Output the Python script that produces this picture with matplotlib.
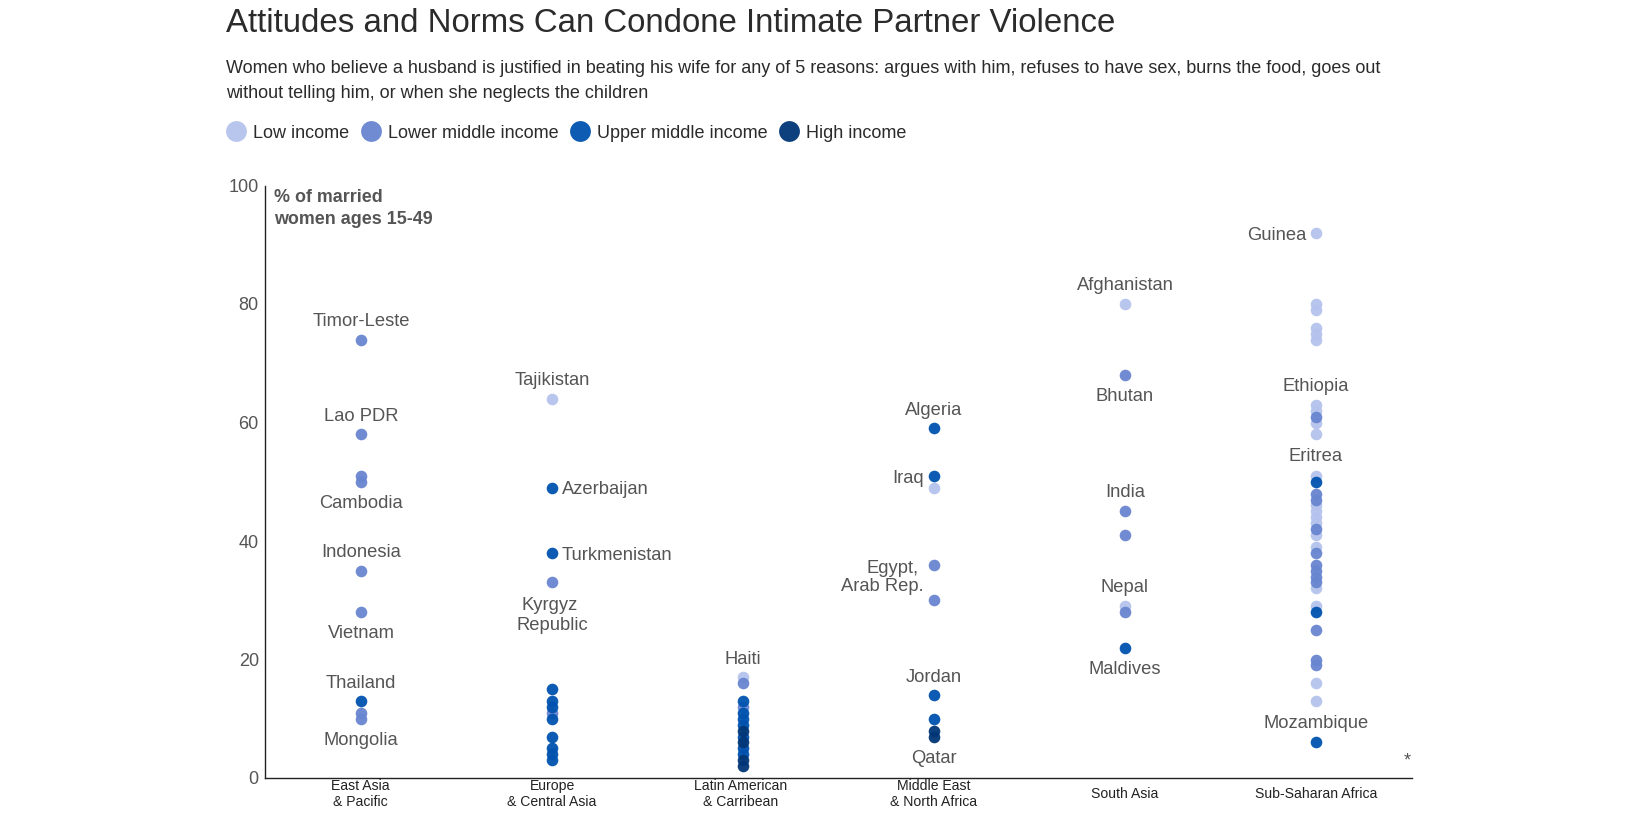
import matplotlib
matplotlib.use('Agg')
import matplotlib.pyplot as plt
from matplotlib.lines import Line2D
from matplotlib.transforms import ScaledTranslation

plt.rcParams['font.family'] = ['Liberation Sans', 'DejaVu Sans']

W, H = 1646, 823

regions = ['East Asia\n& Pacific', 'Europe\n& Central Asia', 'Latin American\n& Carribean',
           'Middle East\n& North Africa', 'South Asia', 'Sub-Saharan Africa']
income_names = ['Low income', 'Lower middle income', 'Upper middle income', 'High income']
income_colors = ['#b4c2ed', '#6885d0', '#0052ae', '#003676']

# values per region and income group
low = [[], [64], [17], [49], [80, 29],
       [92, 80, 79, 76, 75, 74, 63, 62, 60, 58, 51, 46, 45, 44, 43, 41, 39, 32, 29, 16, 13]]
lower_mid = [[74, 58, 51, 50, 35, 28, 11, 10], [33, 11], [16, 12], [36, 30], [68, 45, 41, 28],
             [61, 48, 47, 42, 38, 36, 35, 34, 33, 25, 20, 19]]
upper_mid = [[13], [49, 38, 15, 13, 12, 10, 7, 5, 4, 3], [13, 11, 10, 9, 7, 5, 4], [59, 51, 14, 10], [22],
             [50, 28, 6]]
high = [[], [], [8, 6, 3, 2], [8, 7], [], []]
series = [low, lower_mid, upper_mid, high]

# region index, value, text, ha, dx px, dy px (up is positive)
labels = [
    (0, 74, 'Timor-Leste', 'center', 0, 20), (0, 58, 'Lao PDR', 'center', 0, 20),
    (0, 50, 'Cambodia', 'center', 0, -20), (0, 35, 'Indonesia', 'center', 0, 20),
    (0, 28, 'Vietnam', 'center', 0, -19), (0, 13, 'Thailand', 'center', 0, 19),
    (0, 10, 'Mongolia', 'center', 0, -20),
    (1, 64, 'Tajikistan', 'center', 0, 20), (1, 49, 'Azerbaijan', 'left', 10, 0),
    (1, 38, 'Turkmenistan', 'left', 10, -1), (1, 33, 'Kyrgyz', 'center', -2, -21),
    (1, 33, 'Republic', 'center', 0, -41),
    (2, 17, 'Haiti', 'center', 0, 20),
    (3, 59, 'Algeria', 'center', 0, 20), (3, 51, 'Iraq', 'right', -10, -1),
    (3, 36, 'Egypt,', 'right', -15, -2), (3, 30, 'Arab Rep.', 'right', -10, 16),
    (3, 14, 'Jordan', 'center', 0, 20), (3, 7, 'Qatar', 'center', 0, -20),
    (4, 80, 'Afghanistan', 'center', 0, 20), (4, 68, 'Bhutan', 'center', 0, -19),
    (4, 45, 'India', 'center', 0, 21), (4, 29, 'Nepal', 'center', 0, 21),
    (4, 22, 'Maldives', 'center', 0, -20),
    (5, 92, 'Guinea', 'right', -10, -1), (5, 63, 'Ethiopia', 'center', 0, 20),
    (5, 51, 'Eritrea', 'center', 0, 21), (5, 6, 'Mozambique', 'center', 0, 21),
]
label_shift = -2

fig = plt.figure(figsize=(W / 100, H / 100), dpi=100)
ax = fig.add_axes([265 / W, 1 - 778 / H, (1412 - 265) / W, (778 - 185.5) / H])
ax.set_xlim(-0.503, 5.503)
ax.set_ylim(0, 100)

for vals, color in zip(series, income_colors):
    for i, v in enumerate(vals):
        ax.scatter([i] * len(v), v, s=70, color=color, alpha=0.95, linewidths=0, clip_on=False, zorder=3)

for i, v, txt, ha, dx, dy in labels:
    ax.annotate(txt, (i, v), xytext=(dx * 0.72, (dy + label_shift) * 0.72), textcoords='offset points',
                ha=ha, va='center', fontsize=13.2, color='#555555')

for s in ['top', 'right']:
    ax.spines[s].set_visible(False)
for s in ['left', 'bottom']:
    ax.spines[s].set_color('#222222')
    ax.spines[s].set_linewidth(1)

ax.set_yticks([0, 20, 40, 60, 80, 100])
ax.tick_params(axis='y', length=0, pad=4.5, labelsize=13, labelcolor='#555555')
ax.set_xticks(range(6))
ax.set_xticklabels(regions, fontsize=10.1, color='#222222', linespacing=1.2)
ax.tick_params(axis='x', length=0, pad=11.5)
# a couple of the two-line labels sit a little left of their column
nudges = [-0.01, 0, -0.02, 0, 0, 0]
for lab, nudge in zip(ax.get_xticklabels(), nudges):
    lab.set_va('center')
    lab.set_transform(lab.get_transform() + ScaledTranslation(nudge, 0, fig.dpi_scale_trans))


def ftext(x, y, s, **kw):
    fig.text(x / W, 1 - y / H, s, va='center', **kw)


ftext(226, 23, 'Attitudes and Norms Can Condone Intimate Partner Violence', fontsize=23.8, color='#2b2b2b')
ftext(226, 68.5, 'Women who believe a husband is justified in beating his wife for any of 5 reasons: argues with him, '
      'refuses to have sex, burns the food, goes out', fontsize=13, color='#2b2b2b')
ftext(226, 93.5, 'without telling him, or when she neglects the children', fontsize=13, color='#2b2b2b')
ftext(274, 198, '% of married', fontsize=12.9, fontweight='bold', color='#555555')
ftext(274, 219, 'women ages 15-49', fontsize=12.9, fontweight='bold', color='#555555')
ftext(1404, 761, '*', fontsize=13, color='#555555')

# legend
legend_dots = [236, 371, 580, 789]
for x, name, color in zip(legend_dots, income_names, income_colors):
    fig.add_artist(Line2D([x / W], [1 - 130.5 / H], marker='o', markersize=15, color=color, alpha=0.95,
                          markeredgewidth=0, transform=fig.transFigure))
    ftext(x + 17, 133, name, fontsize=13, color='#2b2b2b')

fig.savefig('out.png', dpi=100, facecolor='white')
